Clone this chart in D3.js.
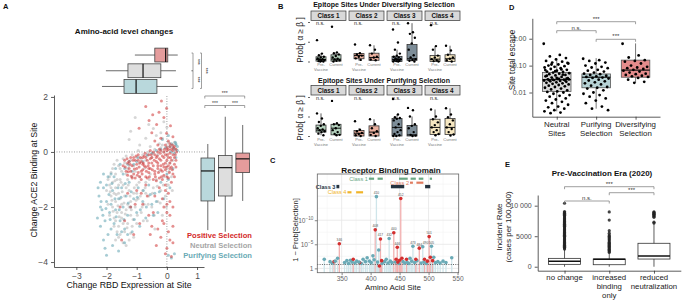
<!DOCTYPE html>
<html>
<head>
<meta charset="utf-8">
<script src="https://cdn.jsdelivr.net/npm/d3@7"></script>
<style>
  body { margin: 0; background: #fff; }
  svg { display: block; font-family: "Liberation Sans", Arial, Helvetica, sans-serif; }
</style>
</head>
<body>
<svg id="fig" width="683" height="302"></svg>
<script>
// ---------- A: amino-acid level changes (x = change in RBD expression, y = change in ACE2 binding) ----------
const aPositive = [
  [-1.45,-0.5],[-1.4,-0.3],[-1.35,-0.7],[-1.3,-0.4],[-1.25,-0.6],[-1.2,-0.2],[-1.15,-0.5],[-1.1,-0.8],[-1.05,-0.3],[-1.0,-0.6],
  [-0.95,-0.1],[-0.9,-0.4],[-0.85,-0.7],[-0.8,-0.2],[-0.75,-0.5],[-0.7,-0.9],[-0.65,-0.3],[-0.6,-0.1],[-0.55,-0.6],[-0.5,-0.4],
  [-0.45,0.0],[-0.4,-0.8],[-0.35,-0.2],[-0.3,-0.5],[-0.25,0.1],[-0.2,-0.3],[-0.15,-0.7],[-0.1,0.0],[-0.05,-0.4],[0.0,0.15],
  [0.05,-0.2],[0.1,-0.6],[0.15,0.1],[0.2,-0.1],[0.25,0.2],[0.3,-0.3],[-0.45,-1.0],[-0.25,-0.95],[0.0,-0.9],[0.2,-0.8],
  [-0.6,-0.75],[-0.9,-0.9],[-1.15,-0.95],[-0.3,-0.6],[-0.1,-0.2],[0.1,0.2],[-0.5,-0.2],[-0.7,-0.55],[0.05,-0.5],[0.25,-0.45],
  [-0.35,-0.35],[-0.8,-0.65],[-1.3,-0.85],[-0.2,0.05],[-0.05,0.25],[0.15,-0.3],[-0.4,-0.1],[-0.15,-0.15],[0.1,-0.05],[0.2,0.05],
  [-0.6,-0.4],[-0.85,-0.35],[-1.0,-0.45],[-0.05,-0.65],[0.15,-0.55],[-0.3,0.0],[-0.55,-0.25],[0.3,0.1],[0.05,0.1],[-0.2,-0.5],
  [-0.7,-0.2],[-1.2,-0.7],[-0.95,-0.75],[0.0,-0.3],[0.25,-0.2],[-0.1,-0.85],
  [-1.38,-0.55],[-1.32,-0.25],[-1.28,-0.72],[-1.22,-0.45],[-1.18,-0.88],[-1.12,-0.3],[-1.08,-0.62],[-1.02,-0.15],[-0.98,-0.85],
  [-0.92,-0.55],[-0.88,-0.2],[-0.82,-0.8],[-0.78,-0.4],[-0.72,-0.05],[-0.68,-0.7],[-0.62,-0.5],[-0.58,-0.9],[-0.52,-0.1],
  [-0.48,-0.65],[-0.42,-0.3],[-0.38,-0.9],[-0.32,-0.15],[-0.28,-0.75],[-0.22,-0.05],[-0.18,-0.9],[-0.12,-0.45],[-0.08,0.1],
  [-0.02,-0.55],[0.02,-0.1],[0.08,-0.75],[0.12,-0.2],[0.18,-0.65],[0.22,0.15],[0.28,-0.1],[0.32,0.0],[-0.65,-0.95],
  [-0.85,-1.0],[-1.05,-0.95],[-0.35,-1.05],[-0.15,-1.0],[0.05,-0.95],[0.25,-0.9],[-0.55,0.05],[-0.75,-0.15],[-0.95,-0.3],
  [-1.25,-0.35],[-0.25,-0.25],[0.0,0.05],[0.18,0.25],[-0.45,-0.5],[-0.05,-0.1],[0.1,-0.4],[-0.6,-0.6],[-0.4,-0.7],
  [-0.2,-0.65],[0.3,-0.55],[-1.1,-0.2],[-0.8,-0.45],[-0.3,-0.4],[-0.1,-0.55],
  [-0.05,-1.2],[0.05,-1.5],[0.0,-1.9],[0.1,-2.3],[-0.1,-2.6],[0.05,-2.9],[0.1,-3.2],[0.0,-3.5],[0.15,-3.8],[0.2,-2.0],
  [-0.15,-1.7],[-1.0,-1.4],[-0.8,-1.9],[-0.6,-2.3],[-0.4,-1.6],[-0.3,-2.8],[-0.5,-2.7],[-0.2,-3.1],[-0.7,-1.2],[-1.2,-2.0],
  [-1.4,-2.5],[-1.3,-1.5],[-0.9,-2.6],[-0.35,-3.4],[-1.5,-3.2],[-1.55,-2.0],[-1.1,-3.0],[0.15,-1.1],[-0.25,-1.3],[0.2,-2.7],
  [-0.05,-1.4],[0.1,-1.8],[0.0,-2.2],[-0.1,-2.0],[0.2,-3.3],[-0.05,-3.7],[-0.45,-2.2],[-0.65,-1.6],[-0.55,-3.0],[-0.15,-2.5],
  [-0.85,-1.5],[-1.05,-1.9],
  [-0.7,1.65],[-0.18,1.85],[-0.47,1.35],[-0.26,1.44],[-0.01,1.59],[-0.59,1.14],[-0.34,1.0],[0.12,0.95],[-0.92,0.86],[-0.01,0.68],
  [-0.2,0.5],[-0.4,0.4],[0.05,0.4],[-0.1,1.25],[-0.5,0.7],[0.2,0.55],[-0.3,0.25],[0.1,0.3]
];
const aNeutral = [
  [-1.9,-0.9],[-1.8,-0.6],[-1.7,-0.8],[-1.6,-0.5],[-1.5,-0.7],[-1.4,-0.4],[-1.3,-0.6],[-1.2,-0.3],[-1.1,-0.5],[-1.0,-0.2],
  [-0.9,-0.4],[-0.8,-0.1],[-0.7,-0.3],[-0.6,0.0],[-0.5,-0.2],[-0.4,0.1],[-0.3,-0.1],[-0.2,0.15],[-0.1,0.0],[0.0,0.2],
  [0.1,0.05],[0.2,0.25],[0.3,0.1],[-1.65,-0.3],[-1.35,-0.15],[-0.95,0.05],[-0.55,0.2],[-0.25,0.3],[0.05,0.35],[-0.15,0.5],[-0.35,0.6],
  [-1.9,-1.2],[-1.85,-1.6],[-1.8,-2.0],[-1.75,-2.4],[-1.7,-1.3],[-1.7,-1.8],[-1.65,-2.2],[-1.6,-2.7],[-1.6,-1.5],[-1.55,-1.0],
  [-1.5,-1.9],[-1.5,-2.4],[-1.45,-1.2],[-1.4,-2.9],[-1.4,-1.6],[-1.35,-2.1],[-1.3,-1.0],[-1.3,-2.6],[-1.25,-1.4],[-1.2,-1.8],
  [-1.2,-2.3],[-1.15,-0.9],[-1.1,-1.5],[-1.1,-3.1],[-1.05,-2.0],[-1.0,-1.2],[-1.0,-2.6],[-0.95,-1.7],[-0.9,-0.9],[-0.85,-2.2],
  [-0.8,-1.4],[-0.75,-1.9],[-0.7,-1.1],[-0.65,-2.5],[-0.6,-1.6],[-0.55,-0.8],[-0.5,-2.0],[-0.45,-1.3],[-0.4,-2.8],[-0.35,-1.0],
  [-0.3,-1.8],[-0.25,-0.7],[-0.2,-1.4],[-0.15,-2.3],[-0.1,-0.9],[-0.05,-1.6],[0.0,-0.6],[0.05,-1.2],[0.1,-0.4],[0.15,-0.9],
  [0.2,-0.3],[-1.95,-1.9],[-2.0,-1.4],[-1.8,-1.1],[-1.55,-3.0],[-1.45,-3.3],[-1.25,-3.2],[-1.65,-2.9],[-1.75,-2.7],[-1.9,-2.3],
  [-1.35,-0.8],[-1.05,-0.7],[-0.75,-0.6],[-1.6,-1.2],[-1.3,-1.9],[-1.0,-1.5],[-0.7,-1.5],[-1.45,-2.6],[-1.15,-2.7],
  [-1.75,-1.5],[-1.55,-1.7],[-1.35,-1.3],[-1.65,-1.0],[-1.25,-2.0],[-1.5,-2.2],[-1.85,-1.3],[-1.7,-2.5],
  [-1.95,-1.0],[-1.88,-1.45],[-1.82,-1.75],[-1.78,-2.15],[-1.72,-1.05],[-1.68,-1.55],[-1.62,-1.95],[-1.58,-2.35],[-1.52,-1.1],
  [-1.48,-1.45],[-1.42,-1.85],[-1.38,-2.25],[-1.32,-2.75],[-1.28,-1.2],[-1.22,-1.6],[-1.18,-2.1],[-1.12,-2.45],[-1.08,-1.3],
  [-1.02,-1.75],[-0.98,-2.3],[-0.92,-1.1],[-0.88,-1.6],[-0.82,-2.0],[-0.78,-2.5],[-0.72,-1.3],[-0.62,-1.9],[-0.58,-1.0],
  [-0.48,-1.5],[-0.42,-2.3],[-0.32,-1.25],[-0.22,-1.85],[-0.12,-1.2],[-0.02,-2.0],[0.08,-0.7],[0.18,-1.4],[-1.85,-0.75],
  [-1.75,-0.45],[-1.55,-0.6],[-1.45,-0.25],[-1.25,-0.5],[-1.15,-0.1],[-0.85,-0.25],[-0.65,-0.15],[-0.45,-0.05],[-0.15,0.25],
  [0.25,0.35],[-1.6,-3.1],[-1.35,-3.4],[-1.7,-3.2],[-1.2,-2.95],
  [-1.05,1.25],[-1.25,0.45],[-1.2,0.75],[-0.7,0.5],[-0.45,0.85],[-0.2,0.7],[0.0,0.9],[-0.9,0.25],[-0.6,1.0],[-0.1,1.1]
];
const aPurifying = [
  [-2.2,-1.1],[-2.1,-1.3],[-2.25,-1.6],[-2.0,-1.8],[-2.15,-2.1],[-2.3,-2.4],[-2.05,-2.5],[-1.95,-0.9],[-2.1,-0.8],[-2.2,-2.0],
  [-1.9,-2.2],[-2.0,-1.2],[-2.1,-3.2],[-2.05,-3.5],[-2.0,-3.75],[-1.8,-3.4],[-1.6,-3.6],[-1.4,-3.3],[-1.3,-3.0],
  [0.05,-3.75],[0.15,-3.85],[0.25,-3.7],
  [-1.8,-1.4],[-1.7,-2.1],[-1.6,-1.7],[-1.55,-2.5],[-1.5,-1.3],[-1.45,-2.0],[-1.4,-2.8],[-1.35,-1.6],[-1.3,-2.3],[-1.25,-1.1],
  [-1.2,-2.0],[-1.15,-2.9],[-1.1,-1.7],[-1.0,-2.2],[-0.95,-1.3],[-0.9,-2.7],[-0.8,-1.8],[-0.7,-2.4],[-0.6,-1.2],[-0.5,-1.9],
  [-0.4,-1.5],[-0.3,-2.2],[-0.2,-1.1],[-0.1,-1.7],[0.0,-0.8],[0.1,-1.3],[-1.75,-2.6],[-1.65,-3.0],[-1.85,-1.9],[-1.5,-2.9],
  [-1.85,-0.8],[-1.7,-0.6],[-1.55,-0.45],[-1.4,-0.6],[-1.25,-0.35],[-1.1,-0.45],[-0.95,-0.2],[-0.8,-0.35],[-0.65,-0.1],[-0.5,-0.05],
  [-0.35,0.05],[-0.2,0.1],[-0.05,0.15],[0.1,0.2],[0.2,0.15],[0.3,0.25],[0.35,0.05],[0.25,-0.05],[0.3,0.3],[0.15,0.3],
  [-2.28,-1.3],[-2.18,-1.8],[-2.12,-2.3],[-2.02,-2.05],[-1.92,-1.55],[-1.88,-2.45],[-1.82,-1.15],[-1.72,-1.7],[-1.68,-2.35],
  [-1.62,-1.3],[-1.58,-2.1],[-1.52,-1.65],[-1.42,-2.45],[-1.38,-1.15],[-1.28,-1.85],[-1.18,-1.45],[-1.08,-2.45],[-0.98,-1.65],
  [-0.88,-2.1],[-0.78,-1.4],[-0.68,-2.0],[-0.55,-1.55],[-0.45,-2.3],[-0.35,-1.8],[-0.25,-1.45],[0.05,-1.0],[0.2,-0.6],
  [0.3,-0.2],[0.35,0.2],[0.25,0.1],[0.15,0.0],[0.28,0.35],[-1.95,-3.0],[-1.85,-2.8],[-2.2,-2.7],[-1.75,-0.9],[-1.45,-0.8],
  [-1.15,-0.7],[-1.3,-0.45],[-1.0,-0.35],
  [-0.15,0.45],[0.05,0.6]
];
const aGroups = ["Positive Selection", "Neutral Selection", "Purifying Selection"];
// box stats [lo, q1, median, q3, hi], same order as aGroups
const aExprBox = [[-1.06,-0.4,-0.04,0.03,0.36], [-2.02,-1.29,-0.79,-0.2,0.3], [-2.15,-1.42,-1.02,-0.33,0.36]];
const aBindBox = [[-1.78,-0.75,-0.25,-0.04,0.98], [-2.9,-1.6,-0.57,-0.13,1.28], [-2.84,-1.78,-0.69,-0.22,0.29]];

// ---------- B: epitope sites, Prob[ a >= b ] ----------
const bClasses = ["Class 1", "Class 2", "Class 3", "Class 4"];
const bPeriods = ["Pre-Vaccine", "Current"];
const bDivPre = [
  [0.54,0.2,0.16,0.12,0.1,0.08,0.06,0.05,0.04,0.02,0.01,0.0,0.0],
  [0.43,0.21,0.18,0.15,0.12,0.08,0.04],
  [0.81,0.48,0.3,0.2,0.15,0.12,0.1,0.08,0.06,0.05,0.04,0.02,0.01,0.0,0.0],
  [0.92,0.39,0.3,0.15,0.1,0.06,0.03,0.01,0.0]
];
const bDivPreBox = [[0,0.01,0.05,0.12,0.2], [0.02,0.07,0.15,0.2,0.22], [0,0,0.05,0.13,0.3], [0,0,0.06,0.15,0.39]];
const bDivCur = [
  [0.88,0.23,0.21,0.18,0.14,0.1,0.07,0.05,0.03,0.02,0.0],
  [0.41,0.3,0.2,0.12,0.1,0.05,0.03],
  [0.97,0.74,0.7,0.6,0.46,0.3,0.16,0.1,0.06,0.04,0.02,0.0],
  [0.4,0.28,0.17,0.1,0.07,0.03,0.0]
];
const bDivCurBox = [[0,0.01,0.06,0.17,0.23], [0.02,0.03,0.1,0.21,0.41], [0,0.03,0.07,0.43,0.97], [0,0,0.07,0.17,0.4]];
const bPurPre = [
  [0.58,0.45,0.36,0.3,0.26,0.2,0.17,0.15,0.12,0.1,0.06,0.02],
  [0.38,0.16,0.12,0.08,0.05,0.02,0.0],
  [0.95,0.55,0.48,0.46,0.44,0.4,0.3,0.22,0.15,0.1,0.05,0.02,0.0,0.0],
  [0.68,0.5,0.43,0.35,0.28,0.22,0.15,0.1,0.05,0.02]
];
const bPurPreBox = [[0.02,0.1,0.15,0.28,0.58], [0,0,0.07,0.14,0.2], [0,0,0.22,0.45,0.55], [0,0.04,0.22,0.43,0.68]];
const bPurCur = [
  [0.9,0.33,0.3,0.28,0.2,0.15,0.1,0.05,0.03,0.02],
  [0.43,0.3,0.2,0.12,0.08,0.03,0.0],
  [0.72,0.66,0.5,0.3,0.26,0.2,0.1,0.03,0.01,0.0],
  [0.71,0.55,0.48,0.4,0.3,0.22,0.18,0.1,0.04,0.01]
];
const bPurCurBox = [[0.02,0.03,0.2,0.3,0.33], [0,0,0.1,0.26,0.43], [0,0,0.03,0.27,0.5], [0,0.04,0.22,0.45,0.71]];

// ---------- C: receptor binding domain, [site, -log10(1 - Prob[Selection]), selection, label] ----------
const cPoints = [
  [410,14.9,"pur","410"],[452,14.5,"pos","452"],[408,8.0,"pos","408"],[417,6.1,"pos","417"],[432,6.2,"pur","432"],
  [440,7.4,"pos","440"],[446,4.4,"pos","446"],[473,4.6,"pur","473"],[484,4.2,"pos","484"],[490,4.5,"pur","490"],
  [501,6.6,"pos","501"],[505,4.6,"pur","505"],[346,5.1,"pos","346"],[414,3.8,"pur",""],
  [320,1.9,"pur",""],[330,1.4,"pur",""],[334,1.1,"pur",""],[339,1.5,"pur",""],[343,2.1,"pur",""],[355,1.2,"pur",""],
  [359,1.6,"pur",""],[362,1.0,"pur",""],[365,1.7,"pur",""],[368,1.3,"pur",""],[373,1.1,"pur",""],[376,1.5,"pur",""],
  [380,1.3,"pur",""],[384,1.0,"pur",""],[387,1.9,"pur",""],[391,1.4,"pur",""],[394,2.2,"pur",""],[398,1.5,"pur",""],
  [401,1.2,"pur",""],[404,2.6,"pur",""],[406,1.8,"pur",""],[412,1.3,"pur",""],[420,1.0,"pur",""],[424,1.4,"pur",""],
  [427,1.9,"pur",""],[430,1.1,"pur",""],[434,1.5,"pur",""],[437,1.2,"pur",""],[443,1.3,"pur",""],[449,1.0,"pur",""],
  [456,1.4,"pur",""],[459,1.1,"pur",""],[463,1.3,"pur",""],[466,1.0,"pur",""],[468,2.1,"pur",""],[471,1.5,"pur",""],
  [476,1.2,"pur",""],[480,1.6,"pur",""],[487,1.1,"pur",""],[492,1.3,"pur",""],[496,1.0,"pur",""],[509,2.3,"pur",""],
  [512,1.2,"pur",""],[516,1.4,"pur",""],[520,1.1,"pur",""],[525,1.5,"pur",""],[530,1.2,"pur",""],[540,2.2,"pur",""],
  [337,1.4,"pos",""],[370,1.9,"pos",""],[381,1.2,"pos",""],[415,0.5,"pos",""],[419,1.6,"pos",""],[444,1.9,"pos",""],
  [447,1.3,"pos",""],[450,1.7,"pos",""],[454,2.1,"pos",""],[462,1.9,"pos",""],[478,1.9,"pos",""],[493,1.9,"pos",""],
  [498,1.5,"pos",""],[503,2.3,"pos",""],[507,1.6,"pos",""]
];
const cClassRanges = [
  [[397,406],[412,421],[449,464],[469,478],[483,491],[502,506]],
  [[468,473],[479,491]],
  [[341,346],[435,458],[494,503]],
  [[360,367],[375,387]]
];

// ---------- D: site total escape ----------
const dGroups = ["Neutral Sites", "Purifying Selection", "Diversifying Selection"];
const dNeutral = [0.65,0.25,0.22,0.19,0.17,0.15,0.14,0.13,0.12,0.11,0.1,0.095,0.09,0.085,0.08,0.075,0.07,0.065,0.06,0.058,
  0.055,0.052,0.05,0.048,0.045,0.043,0.04,0.038,0.036,0.034,0.032,0.031,0.03,0.029,0.028,0.027,0.026,0.025,0.024,0.023,
  0.022,0.021,0.02,0.019,0.018,0.017,0.016,0.015,0.014,0.013,0.012,0.011,0.0105,0.01,0.009,0.008,0.0075,0.007,0.006,0.0055,
  0.005,0.0045,0.004,0.0035,0.003,0.0028,0.0025,0.0022,0.002,0.0018,0.0017,0.033,0.035,0.042,0.046,0.03,0.031,0.032,0.029,
  0.028,0.062,0.068,0.072,0.11,0.125];
const dPurifying = [0.18,0.16,0.15,0.13,0.12,0.1,0.09,0.085,0.08,0.07,0.065,0.06,0.055,0.05,0.048,0.045,0.042,0.04,0.038,
  0.036,0.035,0.033,0.03,0.028,0.026,0.024,0.022,0.02,0.018,0.016,0.015,0.014,0.012,0.01,0.009,0.008,0.007,0.006,0.005,
  0.004,0.003,0.0025,0.0022];
const dDiversifying = [0.65,0.24,0.2,0.16,0.15,0.14,0.12,0.1,0.09,0.085,0.08,0.075,0.07,0.065,0.06,0.055,0.05,0.048,0.045,
  0.042,0.04,0.038,0.035,0.03,0.025,0.023];
const dBox = [[0.002,0.011,0.030,0.056,0.19], [0.0025,0.015,0.037,0.049,0.19], [0.023,0.037,0.068,0.16,0.67]];

// ---------- E: pre-vaccination era incident rate ----------
const eGroups = ["no change", "increased binding only", "reduced neutralization"];
const eLabels = [["no change"], ["increased", "binding", "only"], ["reduced", "neutralization"]];
const eBox = [[0,390,880,1370,2800], [0,330,1210,1260,2200], [0,1260,1750,3840,7000]];
const eOutliers = [
  [2900,3050,3200,3350,3500,3650,3800,3950,4100,4250,4400,4550,4700,4850,5000,5150,5300,5450,5600,5750,5900,6050,
   6200,6350,6500,6650,6800,6950,7100,7250,7400,7550,7700,7850,8000,8150,8300,8450,8600,8750,8900,9050,10400],
  [2350,2500,2700,2850,3000,3200,3350,3500,3700,3850,4000,4200,4400,4600,4800,5000,5200,5500,5900,7650,8970],
  [7150,7300,8100,8250,8400,8500,8600,8700,8800,8900,9000]
];

// ---------- styles ----------
const selFill = ["#e59c9c", "#dedede", "#b9d8dc"];
const selPoint = ["#d03535", "#b4b4b4", "#5fa3b0"];
const selText = ["#d42a2a", "#a6a6a6", "#6aaab5"];
const classFill = ["#b4d1bd", "#eab09e", "#7d8d98", "#f6e7c1"];
const classLine = ["#6aa884", "#e07b5f", "#25323f", "#f0b429"];
const dFill = ["#d9d9d9", "#b7d3d6", "#e48c8c"];
const TICK = "#4d4d4d";

const svg = d3.select("#fig");
const jitter = (i, w) => (((i * 0.6180339887) % 1) - 0.5) * w;

function txt(g, x, y, s, size, o = {}) {
  const t = g.append("text").attr("x", x).attr("y", y).attr("font-size", size)
    .attr("fill", o.fill || "#111").text(s);
  if (o.anchor) t.attr("text-anchor", o.anchor);
  if (o.bold) t.attr("font-weight", "bold");
  if (o.rot) t.attr("transform", `rotate(${o.rot},${x},${y})`);
  return t;
}

function vbox(g, cx, w, s, y, fill, stroke = "#333", medW = 1.2) {
  g.append("line").attr("x1", cx).attr("x2", cx).attr("y1", y(s[0])).attr("y2", y(s[4]))
    .attr("stroke", stroke).attr("stroke-width", 0.8);
  g.append("rect").attr("x", cx - w / 2).attr("y", y(s[3])).attr("width", w).attr("height", y(s[1]) - y(s[3]))
    .attr("fill", fill).attr("stroke", stroke).attr("stroke-width", 0.8);
  g.append("line").attr("x1", cx - w / 2).attr("x2", cx + w / 2).attr("y1", y(s[2])).attr("y2", y(s[2]))
    .attr("stroke", "#111").attr("stroke-width", medW);
}

function hbox(g, cy, h, s, x, fill, stroke = "#444") {
  g.append("line").attr("y1", cy).attr("y2", cy).attr("x1", x(s[0])).attr("x2", x(s[4]))
    .attr("stroke", stroke).attr("stroke-width", 0.8);
  g.append("rect").attr("y", cy - h / 2).attr("x", x(s[1])).attr("height", h).attr("width", x(s[3]) - x(s[1]))
    .attr("fill", fill).attr("stroke", stroke).attr("stroke-width", 0.8);
  g.append("line").attr("y1", cy - h / 2).attr("y2", cy + h / 2).attr("x1", x(s[2])).attr("x2", x(s[2]))
    .attr("stroke", "#111").attr("stroke-width", 1.2);
}

function styleAxis(sel, size, color = TICK, line = "#333") {
  sel.attr("font-family", null).attr("font-size", null);
  sel.select(".domain").attr("stroke", line).attr("stroke-width", 0.8);
  sel.selectAll(".tick line").attr("stroke", line).attr("stroke-width", 0.8);
  sel.selectAll(".tick text").attr("font-size", size).attr("fill", color);
}

function hbracket(g, x1, x2, y, label, size, color = "#777") {
  g.append("path").attr("d", `M${x1},${y + 2.5}V${y}H${x2}V${y + 2.5}`)
    .attr("fill", "none").attr("stroke", color).attr("stroke-width", 0.7);
  txt(g, (x1 + x2) / 2, y - 1, label, size, { anchor: "middle", fill: "#333" });
}

// ================= Panel A =================
{
  const g = svg.append("g");
  txt(g, 3, 9, "A", 7.5, { bold: true });
  txt(g, 124, 34, "Amino-acid level changes", 8, { anchor: "middle", bold: true });

  const x = d3.scaleLinear().domain([-3.74, 1.23]).range([54, 204]);
  const y = d3.scaleLinear().domain([-4.18, 2.07]).range([267, 95]);

  g.append("line").attr("x1", x.range()[0]).attr("x2", 206).attr("y1", y(0)).attr("y2", y(0))
    .attr("stroke", "#888").attr("stroke-width", 0.8).attr("stroke-dasharray", "1,1.5");
  g.append("line").attr("x1", x(0)).attr("x2", x(0)).attr("y1", y.range()[0]).attr("y2", y.range()[1])
    .attr("stroke", "#888").attr("stroke-width", 0.8).attr("stroke-dasharray", "1,1.5");

  [[aNeutral, 1], [aPurifying, 2], [aPositive, 0]].forEach(([pts, k]) => {
    g.append("g").selectAll("circle").data(pts).join("circle")
      .attr("cx", d => x(d[0])).attr("cy", d => y(d[1])).attr("r", 1.5)
      .attr("fill", selPoint[k]).attr("fill-opacity", 0.55);
  });

  const gx = g.append("g").attr("transform", `translate(0,${y.range()[0]})`)
    .call(d3.axisBottom(x).tickValues([-3, -2, -1, 0, 1]).tickFormat(d3.format("d")).tickSize(3).tickSizeOuter(0));
  styleAxis(gx, 8.5);
  const gy = g.append("g").attr("transform", `translate(${x.range()[0]},0)`)
    .call(d3.axisLeft(y).tickValues([-4, -2, 0, 2]).tickFormat(d3.format("d")).tickSize(3).tickSizeOuter(0));
  styleAxis(gy, 8.5);

  txt(g, 129, 288, "Change RBD Expression at Site", 8.8, { anchor: "middle" });
  txt(g, 36.5, 180, "Change ACE2 Binding at Site", 8.8, { anchor: "middle", rot: -90 });

  // marginal boxes for expression (top)
  const rows = d3.scaleBand().domain(aGroups).range([47.5, 94]).paddingInner(0.12).paddingOuter(0.04);
  aGroups.forEach((grp, k) => hbox(g, rows(grp) + rows.bandwidth() / 2, rows.bandwidth(), aExprBox[k], x, selFill[k]));
  const cy = grp => rows(grp) + rows.bandwidth() / 2;
  const vbr = (xb, y1, y2, lx, label) => {
    g.append("path").attr("d", `M${xb - 1.5},${y1}H${xb}V${y2}H${xb - 1.5}`)
      .attr("fill", "none").attr("stroke", "#777").attr("stroke-width", 0.7);
    txt(g, lx, (y1 + y2) / 2, label, 5, { anchor: "middle", rot: 90, fill: "#333" });
  };
  vbr(193, cy(aGroups[0]) - 2, cy(aGroups[1]), 195.5, "***");
  vbr(193, cy(aGroups[1]), cy(aGroups[2]) + 2, 195.5, "***");
  vbr(201.5, cy(aGroups[0]) - 2, cy(aGroups[2]) + 2, 204, "***");

  // marginal boxes for binding (right)
  const order = [aGroups[2], aGroups[1], aGroups[0]];
  const cols = d3.scaleBand().domain(order).range([201, 249.5]).paddingInner(0.22);
  order.forEach(grp => {
    const k = aGroups.indexOf(grp);
    vbox(g, cols(grp) + cols.bandwidth() / 2, cols.bandwidth(), aBindBox[k], y, selFill[k], "#444");
  });
  const cc = grp => cols(grp) + cols.bandwidth() / 2;
  hbracket(g, cc(order[0]) - 3, cc(order[2]) + 2, 96, "***", 5);
  hbracket(g, cc(order[0]) - 3, cc(order[1]), 105.5, "***", 5);
  hbracket(g, cc(order[1]), cc(order[2]) + 2, 105.5, "***", 5);

  aGroups.forEach((grp, k) => txt(g, 252, 238 + k * 10, grp, 7.6, { anchor: "end", bold: true, fill: selText[k] }));
}

// ================= Panel B =================
{
  const g = svg.append("g");
  txt(g, 278, 9, "B", 7.5, { bold: true });
  const fx = d3.scaleBand().domain(bClasses).range([311, 460]).paddingInner(0.08);
  const px = d3.scalePoint().domain(bPeriods).range([10, 25]);
  const bw = fx.bandwidth();
  const bRows = [
    { title: "Epitope Sites Under Diversifying Selection", titleY: 7, stripY: 11, y0: 61.5, y1: 22, labY: 66, mid: 40,
      pre: bDivPre, preBox: bDivPreBox, cur: bDivCur, curBox: bDivCurBox },
    { title: "Epitope Sites Under Purifying Selection", titleY: 83, stripY: 85.5, y0: 136, y1: 97, labY: 141, mid: 118,
      pre: bPurPre, preBox: bPurPreBox, cur: bPurCur, curBox: bPurCurBox }
  ];
  bRows.forEach(row => {
    const y = d3.scaleLinear().domain([0, 1]).range([row.y0, row.y1]);
    txt(g, 384, row.titleY, row.title, 7, { anchor: "middle", bold: true });
    txt(g, 303, row.mid, "Prob[ α ≥ β ]", 8.3, { anchor: "middle", rot: -90, fill: "#222" });
    const ay = g.append("g").attr("transform", `translate(${fx.range()[0] - 1},0)`)
      .call(d3.axisLeft(y).tickValues([0, 0.5, 1]).tickSize(2).tickFormat(""));
    ay.select(".domain").remove();
    ay.selectAll("line").attr("stroke", "#666");
    bClasses.forEach((c, ci) => {
      const fg = g.append("g").attr("transform", `translate(${fx(c)},0)`);
      fg.append("rect").attr("x", 0).attr("y", row.stripY).attr("width", bw).attr("height", 9.5)
        .attr("fill", "#d9d9d9").attr("stroke", "#333").attr("stroke-width", 0.7);
      txt(fg, bw / 2, row.stripY + 7, c, 6.3, { anchor: "middle", bold: true });
      txt(fg, 5, row.y1 + 2.5, "n.s.", 5.3, { fill: "#222" });
      [[row.pre[ci], row.preBox[ci], bPeriods[0]], [row.cur[ci], row.curBox[ci], bPeriods[1]]].forEach(([pts, box, per]) => {
        const cx = px(per);
        vbox(fg, cx, 10, box, y, classFill[ci], "#333", 1);
        fg.append("g").selectAll("circle").data(pts).join("circle")
          .attr("cx", (d, i) => cx + jitter(i, 8)).attr("cy", d => y(d)).attr("r", 1.2).attr("fill", "#000");
      });
      txt(fg, px(bPeriods[0]), row.labY, "Pre-", 4, { anchor: "middle", fill: "#777" });
      txt(fg, px(bPeriods[0]), row.labY + 4.5, "Vaccine", 4, { anchor: "middle", fill: "#777" });
      txt(fg, px(bPeriods[1]), row.labY, "Current", 4, { anchor: "middle", fill: "#777" });
    });
  });
}

// ================= Panel C =================
{
  const g = svg.append("g");
  txt(g, 270, 163, "C", 7.5, { bold: true });
  txt(g, 391, 172.5, "Receptor Binding Domain", 8.1, { anchor: "middle", bold: true });
  const x = d3.scaleLinear().domain([308, 552]).range([317.3, 458.7]);
  const y = d3.scaleLinear().domain([-0.9, 19.6]).range([272.7, 174]);
  const [x0, x1] = x.range(), [y0, y1] = y.range();

  [325, 375, 425, 475, 525].forEach(v => g.append("line").attr("x1", x(v)).attr("x2", x(v)).attr("y1", y0).attr("y2", y1).attr("stroke", "#f3f3f3").attr("stroke-width", 0.6));
  [2.5, 7.5, 12.5, 17.5].forEach(v => g.append("line").attr("x1", x0).attr("x2", x1).attr("y1", y(v)).attr("y2", y(v)).attr("stroke", "#f3f3f3").attr("stroke-width", 0.6));
  [350, 400, 450, 500].forEach(v => g.append("line").attr("x1", x(v)).attr("x2", x(v)).attr("y1", y0).attr("y2", y1).attr("stroke", "#e6e6e6").attr("stroke-width", 0.8));
  [0, 5, 10, 15].forEach(v => g.append("line").attr("x1", x0).attr("x2", x1).attr("y1", y(v)).attr("y2", y(v)).attr("stroke", "#e6e6e6").attr("stroke-width", 0.8));

  const pts = cPoints.slice().sort((a, b) => a[1] - b[1]);
  g.append("g").selectAll("line").data(pts).join("line")
    .attr("x1", d => x(d[0])).attr("x2", d => x(d[0])).attr("y1", y0).attr("y2", d => y(d[1]))
    .attr("stroke", d => d[2] === "pos" ? "#f2b0b0" : "#cfe5ea").attr("stroke-width", 1.3);
  g.append("line").attr("x1", x0).attr("x2", x1).attr("y1", y(0.8)).attr("y2", y(0.8))
    .attr("stroke", "#222").attr("stroke-width", 0.7).attr("stroke-dasharray", "1,1.3");
  g.append("g").selectAll("circle").data(pts).join("circle")
    .attr("cx", d => x(d[0])).attr("cy", d => y(d[1])).attr("r", 1.8)
    .attr("fill", d => d[2] === "pos" ? "#d32f2f" : "#6aaab6");

  // site labels, nudged apart when neighbours would collide
  const labelled = cPoints.filter(d => d[3]).map(d => ({ d, lx: x(d[0]), ly: y(d[1]) - 2.6 }))
    .sort((a, b) => a.lx - b.lx);
  labelled.forEach((l, i) => {
    const prev = labelled[i - 1];
    if (prev && Math.abs(l.ly - prev.ly) < 4 && l.lx - prev.lx < 6.2) l.lx = prev.lx + 6.2;
  });
  g.append("g").selectAll("text").data(labelled).join("text")
    .attr("x", l => l.lx).attr("y", l => l.ly).attr("text-anchor", "middle")
    .attr("font-size", 3.3).attr("fill", "#555").text(l => l.d[3]);

  // antibody class footprints
  const classRowY = [178.7, 182.7, 186.6, 192.3];
  const classW = [2.2, 2.2, 3.4, 2.2];
  cClassRanges.forEach((segs, k) => {
    segs.forEach(s => g.append("line").attr("x1", x(s[0])).attr("x2", x(s[1]))
      .attr("y1", classRowY[k]).attr("y2", classRowY[k]).attr("stroke", classLine[k]).attr("stroke-width", classW[k]));
    txt(g, x(segs[0][0]) - 1, classRowY[k] + 2, bClasses[k], 5.6, { anchor: "end", fill: classLine[k], bold: k === 2 });
  });

  g.append("rect").attr("x", x0).attr("y", y1).attr("width", x1 - x0).attr("height", y0 - y1)
    .attr("fill", "none").attr("stroke", "#666").attr("stroke-width", 0.8);

  const gx = g.append("g").attr("transform", `translate(0,${y0})`)
    .call(d3.axisBottom(x).tickValues([350, 400, 450, 500, 550]).tickSize(2.5).tickPadding(1.2).tickSizeOuter(0));
  styleAxis(gx, 6.6, "#666", "#666");
  gx.select(".domain").remove();
  const gy = g.append("g").attr("transform", `translate(${x0},0)`)
    .call(d3.axisLeft(y).tickValues([0, 5, 10]).tickSize(2.5).tickFormat(""));
  styleAxis(gy, 6.6, "#666", "#666");
  gy.select(".domain").remove();
  [[0, ""], [5, "-5"], [10, "-10"]].forEach(([v, p]) => {
    const t = g.append("text").attr("x", x0 - 4).attr("y", y(v) + 2.3).attr("text-anchor", "end")
      .attr("font-size", 6.6).attr("fill", "#666");
    if (!p) { t.text("1"); return; }
    t.append("tspan").text("10");
    t.append("tspan").attr("dy", -2.5).attr("font-size", 4.6).text(p.replace("-", "\u2212"));
  });
  txt(g, 298, 230, "1 \u2212 Prob[Selection]", 7.5, { anchor: "middle", rot: -90, fill: "#222" });
  txt(g, 393, 290, "Amino Acid Site", 8, { anchor: "middle", fill: "#222" });
}

// ================= Panel D =================
{
  const g = svg.append("g");
  txt(g, 509, 9.5, "D", 7.5, { bold: true });
  const y = d3.scaleLog().domain([Math.pow(10, -2.9), Math.pow(10, 0.76)]).range([116.7, 18.3]);
  const x = d3.scalePoint().domain(dGroups).range([532.3, 660]).padding(0.62);
  const w = 28.5;
  [dNeutral, dPurifying, dDiversifying].forEach((vals, k) => {
    const cx = x(dGroups[k]);
    vbox(g, cx, w, dBox[k], y, dFill[k], "#555", 1.2);
    g.append("g").selectAll("circle").data(vals).join("circle")
      .attr("cx", (d, i) => cx + jitter(i, 26)).attr("cy", d => y(d)).attr("r", 1.4).attr("fill", "#000");
  });
  const gy = g.append("g").attr("transform", `translate(532.3,0)`)
    .call(d3.axisLeft(y).tickValues([0.01, 0.1, 1]).tickFormat(d3.format(".2f")).tickSize(3).tickSizeOuter(0));
  styleAxis(gy, 7, TICK, "#333");
  const gx = g.append("g").attr("transform", `translate(0,116.7)`)
    .call(d3.axisBottom(x).tickSize(3).tickSizeOuter(0).tickFormat(""));
  styleAxis(gx, 7, TICK, "#333");
  dGroups.forEach(grp => {
    const parts = grp.split(" ");
    parts.forEach((p, i) => txt(g, x(grp), 127 + i * 8.5, p, 7.9, { anchor: "middle", fill: "#222" }));
  });
  txt(g, 515, 60, "Site total escape", 8.2, { anchor: "middle", rot: -90, fill: "#222" });
  hbracket(g, x(dGroups[0]), x(dGroups[2]), 21.7, "***", 6);
  hbracket(g, x(dGroups[0]), x(dGroups[1]), 30.7, "n.s.", 6);
  hbracket(g, x(dGroups[1]), x(dGroups[2]), 39.3, "***", 6);
}

// ================= Panel E =================
{
  const g = svg.append("g");
  txt(g, 505, 166.5, "E", 7.5, { bold: true });
  txt(g, 602, 175.5, "Pre-Vaccination Era (2020)", 8, { anchor: "middle", bold: true });
  const y = d3.scaleLinear().domain([-650, 11750]).range([270.7, 195]);
  const x = d3.scalePoint().domain(eGroups).range([537.7, 680.8]).padding(0.6);
  const w = 32;
  eGroups.forEach((grp, k) => {
    const cx = x(grp);
    vbox(g, cx, w, eBox[k], y, "#fff", "#333", 1.5);
    g.append("g").selectAll("circle").data(eOutliers[k]).join("circle")
      .attr("cx", cx).attr("cy", d => y(d)).attr("r", 1.6).attr("fill", "#222").attr("fill-opacity", 0.85);
  });
  const gy = g.append("g").attr("transform", `translate(537.7,0)`)
    .call(d3.axisLeft(y).tickValues([0, 5000, 10000]).tickSize(3).tickSizeOuter(0)
      .tickFormat(d => d === 10000 ? "10 000" : d));
  styleAxis(gy, 7, TICK, "#333");
  const gx = g.append("g").attr("transform", `translate(0,270.7)`)
    .call(d3.axisBottom(x).tickSize(3).tickSizeOuter(0).tickFormat(""));
  styleAxis(gx, 7, TICK, "#333");
  eGroups.forEach((grp, k) => {
    eLabels[k].forEach((p, i) => txt(g, x(grp), 280 + i * 9, p, 7.8, { anchor: "middle", fill: "#222" }));
  });
  txt(g, 502, 227, "Incident Rate", 8, { anchor: "middle", rot: -90, fill: "#222" });
  txt(g, 510.5, 227, "(cases per 100,000)", 8, { anchor: "middle", rot: -90, fill: "#222" });
  hbracket(g, x(eGroups[0]), x(eGroups[2]), 186.7, "***", 6);
  hbracket(g, x(eGroups[1]), x(eGroups[2]), 192.7, "***", 6);
  hbracket(g, x(eGroups[0]), x(eGroups[1]), 201, "n.s.", 6);
}
</script>
</body>
</html>
